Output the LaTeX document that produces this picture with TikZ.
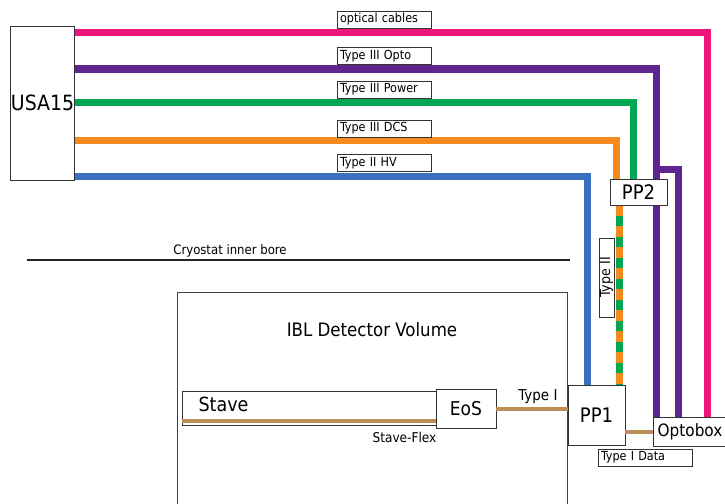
\documentclass[tikz,border=0pt]{standalone}
\usepackage{fontspec}
\setmainfont{DejaVu Sans Condensed}
\usetikzlibrary{backgrounds}

\definecolor{cablepink}{RGB}{237,22,124}
\definecolor{cablepurple}{RGB}{96,36,142}
\definecolor{cablegreen}{RGB}{0,166,81}
\definecolor{cableorange}{RGB}{246,138,30}
\definecolor{cableblue}{RGB}{58,112,192}
\definecolor{flexbrown}{RGB}{190,142,88}

\newcommand{\fsz}[1]{\fontsize{#1pt}{#1pt}\selectfont}

\begin{document}
\begin{tikzpicture}[x = 1pt, y = -1pt]
\tikzstyle{cable} = [line width = 7pt, line join = miter]
\tikzstyle{flex} = [line width = 4pt, color = flexbrown]
\tikzstyle{boxStyle} = [draw = black!80, line width = 0.9pt, fill = white, inner sep = 0pt]
\tikzstyle{tagStyle} = [draw = black!80, line width = 0.7pt, fill = white, minimum width = 94pt, minimum height = 17pt, text width = 88pt, inner xsep = 3pt, inner ysep = 0pt, align = left, font = \fsz{12.5}]
\useasboundingbox (0,0) rectangle (725,503);

% boxes
\node[boxStyle, minimum width = 63pt, minimum height = 154pt, font = \fsz{21}] (usa) at (42.5,103) {\raisebox{-5pt}{USA15}};
\node[boxStyle, minimum width = 57pt, minimum height = 26pt, font = \fsz{20}] (pp2) at (638.5,192) {PP2};
\node[boxStyle, minimum width = 57pt, minimum height = 60pt, font = \fsz{20}] (pp1) at (596.5,415) {PP1};
\node[boxStyle, minimum width = 74pt, minimum height = 29pt, font = \fsz{17}] (opto) at (690,431.5) {Optobox};
\node[boxStyle, minimum width = 254pt, minimum height = 34pt] (stave) at (309,408) {};
\node[boxStyle, minimum width = 60pt, minimum height = 39pt, font = \fsz{19}] (eos) at (466,408.5) {EoS};

% cable tags
\node[tagStyle] (tagoc) at (384,19.5) {optical cables};
\node[tagStyle] (tagop) at (384,56) {Type III Opto};
\node[tagStyle] (tagpw) at (384,89.5) {Type III Power};
\node[tagStyle] (tagdcs) at (384,128.5) {Type III DCS};
\node[tagStyle] (taghv) at (384,163) {Type II HV};
\node[tagStyle, rotate = 90, minimum width = 79pt, minimum height = 15pt, text width = 73pt, align = center, font = \fsz{14}] (tagtwo) at (606.5,277.5) {Type II};
\node[tagStyle] (tagdata) at (645,457.5) {Type I Data};

% plain labels
\node[font = \fsz{19.5}, anchor = west] (stavelbl) at (195,404) {Stave};
\node[font = \fsz{13.5}] (flexlbl) at (404.5,437) {Stave-Flex};
\node[font = \fsz{15}] (typeilbl) at (538,397) {Type I};
\node[font = \fsz{18.5}] (ibllbl) at (372,330) {IBL Detector Volume};
\node[font = \fsz{13}] (borelbl) at (230,251) {Cryostat inner bore};

% cryostat bore and detector volume
\coordinate (boreL) at (27,260);
\coordinate (boreR) at (570,260);
\draw[line width = 2.5pt, black!85] (boreL) -- (boreR);
\draw[black!75, line width = 0.9pt] (177,510) |- (567,292) -- (567,510);

% flex and Type I lines
\draw[flex] ([yshift = 4pt]stave.south west) -- ([yshift = 4pt]stave.south east);
\draw[flex] (eos.east) -- (pp1.west |- eos.east);
\draw[flex] (pp1.east |- opto.west) -- (opto.west);

\begin{scope}[on background layer]
% cables from USA15
\coordinate (ocbend) at (707,33);
\coordinate (opbend) at (656,69);
\coordinate (opjog) at (656,169);
\coordinate (opjogb) at (678,169);
\coordinate (pwbend) at (633,102.5);
\coordinate (dcsbend) at (616,140);
\coordinate (hvbend) at (587.5,176);
\coordinate (twotop) at (619,205);
\coordinate (twobot) at (619,385);
\draw[cable, cablepink] (usa.east |- ocbend) -- (ocbend) -- (ocbend |- opto.north);
\draw[cable, cablepurple] (usa.east |- opbend) -- (opbend) -- (opbend |- opto.north);
\draw[cable, cablepurple] (opjog) -- (opjogb) -- (opjogb |- opto.north);
\draw[cable, cablegreen] (usa.east |- pwbend) -- (pwbend) -- (pwbend |- pp2.north);
\draw[cable, cableorange] (usa.east |- dcsbend) -- (dcsbend) -- (dcsbend |- pp2.north);
\draw[cable, cableblue] (usa.east |- hvbend) -- (hvbend) -- (hvbend |- pp1.north);
% Type II bundle
\draw[cable, cablegreen] (twotop) -- (twobot);
\draw[cable, cableorange, dash pattern = on 10.5pt off 10.5pt] (twotop) -- (twobot);
\end{scope}
\end{tikzpicture}
\end{document}
